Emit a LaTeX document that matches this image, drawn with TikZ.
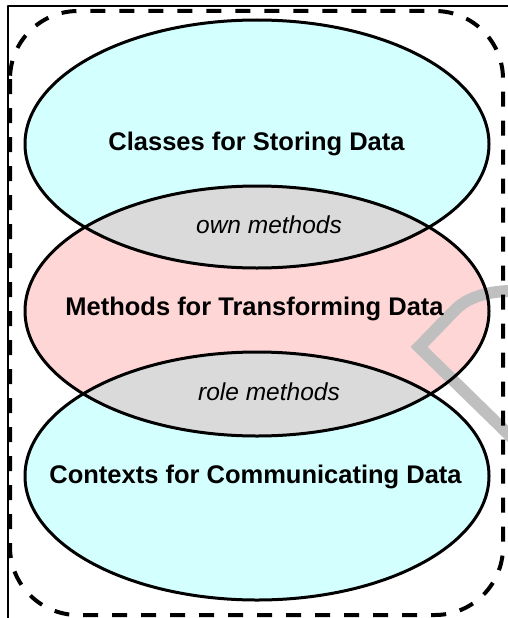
\documentclass[tikz,border=0pt]{standalone}
\usepackage{fontspec}
\setmainfont{Liberation Sans}
\definecolor{storecyan}{RGB}{212,255,255}
\definecolor{transpink}{RGB}{255,214,214}
\definecolor{lensgray}{RGB}{218,218,218}
\begin{document}
\begin{tikzpicture}[x=1pt,y=-1pt, line join=round, line cap=round,
	title/.style={anchor=base, font=\fontsize{25.5}{30}\selectfont\bfseries},
	lens/.style={anchor=base, font=\fontsize{24.5}{29}\selectfont\itshape},
	rim/.style={line width=3pt}]
	\useasboundingbox (0,0) rectangle (508,618);
	\fill[storecyan] (257,144) ellipse [x radius=232, y radius=124]; % Classes
	\fill[transpink] (257,311) ellipse [x radius=232, y radius=125]; % Methods
	\fill[storecyan] (257,476) ellipse [x radius=232, y radius=124]; % Contexts
	\begin{scope}
		\clip (257,311) ellipse [x radius=232, y radius=125];
		\fill[lensgray] (257,144) ellipse [x radius=232, y radius=124];
		\fill[lensgray] (257,476) ellipse [x radius=232, y radius=124];
	\end{scope}
	\begin{scope}
		\clip (0,0) rectangle (508,618);
		\fill[black!25] (512,285) .. controls (488,285) and (464,292) .. (450.7,305.8) -- (410.5,347) -- (512,446) -- (512,429.6) -- (427.5,347) -- (459.3,314.2) .. controls (472,301) and (492,297) .. (512,297) -- cycle; % dấu mờ
	\end{scope}
	\draw[rim] (257,144) ellipse [x radius=232, y radius=124];
	\draw[rim] (257,311) ellipse [x radius=232, y radius=125];
	\draw[rim] (257,476) ellipse [x radius=232, y radius=124];
	\draw[line width=4pt, line cap=butt, dash pattern=on 15pt off 14pt, rounded corners=68pt] (10,11) rectangle (503,615);
	\draw[line width=1.5pt, line cap=butt] (8,618) -- (8,6) -- (508,6); % khung
	\node[title] (store) at (256.5,150) {Classes for Storing Data};
	\node[lens] (own) at (269,233) {own methods};
	\node[title] (trans) at (254.5,315) {Methods for Transforming Data};
	\node[lens] (role) at (269,400) {role methods};
	\node[title] (comm) at (255.5,483) {Contexts for Communicating Data};
\end{tikzpicture}
\end{document}
